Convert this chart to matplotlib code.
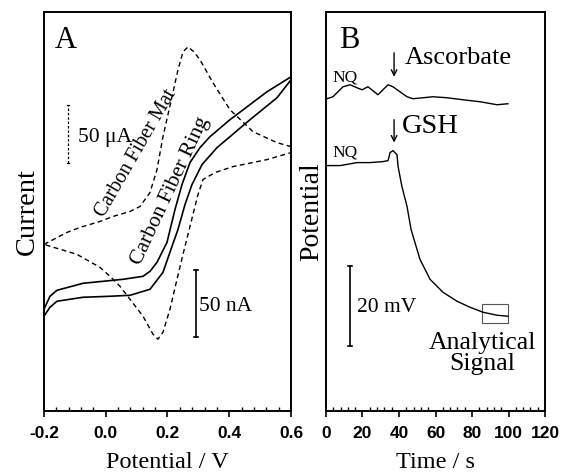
import matplotlib
matplotlib.use('Agg')
import matplotlib.pyplot as plt
from matplotlib.patches import Rectangle
from matplotlib.ticker import MultipleLocator

# Panel A: cyclic voltammograms (current in arbitrary units)
mat_fwd_v = [-0.2, -0.1255, -0.0834, -0.0186, 0.0235, 0.0786, 0.111, 0.1433, 0.166,
             0.1854, 0.2146, 0.234, 0.2502, 0.2664, 0.2858, 0.3053, 0.3474, 0.4024,
             0.4769, 0.5547, 0.6]
mat_fwd_i = [41.75, 44.75, 46.0, 47.5, 48.75, 50.0, 51.25, 54.75, 60.5, 68.75, 78.75,
             85.5, 90.0, 91.25, 90.0, 88.0, 82.25, 75.5, 70.0, 67.25, 66.25]
mat_rev_v = [0.6, 0.5223, 0.4122, 0.3538, 0.315, 0.2988, 0.2826, 0.2664, 0.2502, 0.2308,
             0.2081, 0.1854, 0.1692, 0.153, 0.1207, 0.0786, 0.0462, 0.0138, -0.0186,
             -0.0931, -0.2]
mat_rev_i = [64.75, 63.0, 61.25, 59.75, 58.0, 54.25, 49.25, 44.25, 39.25, 33.0, 25.5,
             19.75, 18.0, 19.25, 23.75, 28.0, 31.25, 33.75, 36.0, 39.25, 41.75]

ring_fwd_v = [-0.2, -0.1806, -0.1579, -0.0737, 0.0559, 0.1207, 0.1434, 0.166, 0.1984,
              0.2243, 0.247, 0.2729, 0.3053, 0.3377, 0.4024, 0.5223, 0.6]
ring_fwd_i = [25.5, 28.75, 30.25, 32.0, 33.0, 33.75, 35.0, 37.25, 42.25, 50.5, 56.75,
              62.25, 66.0, 68.75, 73.0, 80.0, 83.75]
ring_rev_v = [0.6, 0.5547, 0.4672, 0.4024, 0.3603, 0.3118, 0.2794, 0.2567, 0.234, 0.2146,
              0.1854, 0.1433, 0.0786, 0.0138, -0.0737, -0.1579, -0.1806, -0.2]
ring_rev_i = [83.0, 78.5, 73.0, 68.75, 66.0, 61.75, 56.75, 51.75, 45.5, 41.25, 34.75,
              30.5, 29.0, 28.75, 28.5, 27.5, 26.0, 23.75]

# Panel B: potentiometric traces (mV, arbitrary offset)
asc_t = [0.5, 3.8, 9.3, 13.2, 17.0, 19.7, 23.0, 28.5, 31.2, 34.0, 36.7, 40.5, 44.4,
         47.7, 53.2, 58.6, 66.3, 75.0, 84.4, 93.7, 99.7]
asc_mv = [78.25, 78.75, 81.25, 81.75, 81.0, 80.5, 81.25, 79.25, 80.5, 81.75, 81.25,
          80.0, 78.75, 78.25, 78.5, 78.75, 78.5, 78.0, 77.5, 76.75, 77.0]
gsh_t = [0.5, 7.7, 17.0, 24.1, 31.2, 34.0, 35.1, 36.7, 38.9, 39.5, 41.6, 44.4, 46.6,
         51.5, 57.0, 64.1, 71.8, 78.9, 86.0, 93.7, 99.7]
gsh_mv = [61.5, 61.5, 62.25, 62.25, 62.5, 62.75, 64.75, 65.25, 64.25, 61.25, 56.25,
          51.25, 45.5, 38.0, 33.0, 29.75, 27.5, 26.0, 24.75, 24.0, 23.75]

xticks_a = [-0.2, 0.0, 0.2, 0.4, 0.6]
xticks_b = [0, 20, 40, 60, 80, 100, 120]

SERIF = 'Liberation Serif'
SANS = 'Liberation Sans'


def _style_axes(ax, xlabel):
    for sp in ax.spines.values():
        sp.set_linewidth(1.4)
    ax.set_yticks([])
    ax.tick_params(axis='x', which='major', direction='out', length=4, width=1.2,
                   labelsize=12.5, pad=7)
    ax.tick_params(axis='x', which='minor', direction='in', length=3, width=1.0)
    for lab in ax.get_xticklabels():
        lab.set_fontfamily(SANS)
        lab.set_fontweight('bold')
    ax.set_xlabel(xlabel, fontsize=17.5, family=SERIF, labelpad=8)


fig = plt.figure(figsize=(5.61, 4.73), dpi=100)
ax_a = fig.add_axes([0.0784, 0.1311, 0.4403, 0.8436])
ax_b = fig.add_axes([0.5811, 0.1311, 0.3904, 0.8436])

# ---- Panel A ----
ax_a.plot(mat_fwd_v + mat_rev_v, mat_fwd_i + mat_rev_i, color='black', lw=1.0,
          dashes=(3.5, 2.5))
ax_a.plot(ring_fwd_v + ring_rev_v, ring_fwd_i + ring_rev_i, color='black', lw=1.2)
ax_a.set_xlim(-0.2, 0.6)
ax_a.set_ylim(0, 100)
ax_a.set_xticks(xticks_a)
ax_a.set_xticklabels([f'{v:.1f}' for v in xticks_a])
ax_a.xaxis.set_minor_locator(MultipleLocator(0.04))
_style_axes(ax_a, 'Potential / V')
ax_a.set_ylabel('Current', fontsize=20.5, family=SERIF, labelpad=3)

ax_a.text(0.045, 0.91, 'A', transform=ax_a.transAxes, fontsize=22, family=SERIF,
          va='baseline', ha='left')

# scale bars
ax_a.plot([-0.1223, -0.1223], [62.25, 76.75], color='black', lw=0.9, dashes=(2, 1.5))
ax_a.plot([-0.1263, -0.1183], [76.75, 76.75], color='black', lw=0.9)
ax_a.plot([-0.1263, -0.1183], [62.25, 62.25], color='black', lw=0.9)
ax_a.text(-0.09, 68.5, '50 μA', fontsize=15.5, family=SERIF, va='center', ha='left')

ax_a.plot([0.2923, 0.2923], [18.5, 35.25], color='black', lw=1.2)
ax_a.plot([0.2863, 0.2983], [35.25, 35.25], color='black', lw=1.2)
ax_a.plot([0.2863, 0.2983], [18.5, 18.5], color='black', lw=1.2)
ax_a.text(0.303, 26.25, '50 nA', fontsize=15.5, family=SERIF, va='center', ha='left')

ax_a.text(0.097, 64.5, 'Carbon Fiber Mat', fontsize=14.5, family=SERIF, rotation=60,
          rotation_mode='anchor', ha='center', va='center')
ax_a.text(0.208, 55.0, 'Carbon Fiber Ring', fontsize=15.5, family=SERIF, rotation=65,
          rotation_mode='anchor', ha='center', va='center')

# ---- Panel B ----
ax_b.plot(asc_t, asc_mv, color='black', lw=1.0)
ax_b.plot(gsh_t, gsh_mv, color='black', lw=1.0)
ax_b.set_xlim(0, 120)
ax_b.set_ylim(0, 100)
ax_b.set_xticks(xticks_b)
ax_b.xaxis.set_minor_locator(MultipleLocator(4))
_style_axes(ax_b, 'Time / s')
ax_b.set_ylabel('Potential', fontsize=20, family=SERIF, labelpad=1)

ax_b.text(0.059, 0.91, 'B', transform=ax_b.transAxes, fontsize=22, family=SERIF,
          va='baseline', ha='left')

ax_b.text(10.4, 83.5, 'NQ', fontsize=12.5, family=SERIF, ha='center', va='center')
ax_b.text(10.4, 64.75, 'NQ', fontsize=12.5, family=SERIF, ha='center', va='center')

arrow = dict(arrowstyle='->', color='black', lw=1.0, shrinkA=0, shrinkB=0)
ax_b.annotate('', xy=(37.3, 83.75), xytext=(37.3, 89.75), arrowprops=arrow)
ax_b.annotate('', xy=(37.3, 67.25), xytext=(37.3, 73.0), arrowprops=arrow)
ax_b.text(43.3, 88.5, 'Ascorbate', fontsize=19, family=SERIF, ha='left', va='center')
ax_b.text(41.6, 71.25, 'GSH', fontsize=20.5, family=SERIF, ha='left', va='center')

ax_b.add_patch(Rectangle((85.5, 22.0), 14.2, 4.75, fill=False, edgecolor='#555555',
                         lw=0.8))
ax_b.text(85.5, 14.5, 'Analytical\nSignal', fontsize=18.5, family=SERIF, ha='center',
          va='center', linespacing=0.95)

ax_b.plot([13.15, 13.15], [16.25, 36.25], color='black', lw=1.2)
ax_b.plot([12.0, 14.3], [36.25, 36.25], color='black', lw=1.2)
ax_b.plot([12.0, 14.3], [16.25, 16.25], color='black', lw=1.2)
ax_b.text(17.0, 26.0, '20 mV', fontsize=15.5, family=SERIF, ha='left', va='center')

fig.savefig('out.png', dpi=100)
